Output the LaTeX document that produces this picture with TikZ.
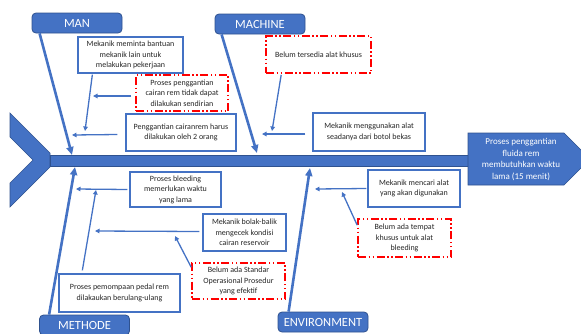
\documentclass[tikz,border=0pt]{standalone}
\usepackage{fontspec}
\setmainfont{Carlito}
\usetikzlibrary{arrows.meta}
\definecolor{fishblue}{HTML}{4472C4}
\definecolor{fishedge}{HTML}{2F528F}
\definecolor{rootred}{HTML}{FF0000}

\begin{document}
\begin{tikzpicture}[x=1pt, y=-1pt,
    header/.style={draw=fishedge, fill=fishblue, rounded corners=4pt, text=white,
      font=\fontsize{12.5}{14}\selectfont, minimum width=90pt, minimum height=20pt,
      inner sep=0pt, line width=0.8pt},
    causebox/.style={draw=fishblue, line width=1.3pt, fill=white, align=center,
      text=black!85, font=\fontsize{8}{10.5}\selectfont, inner sep=0pt},
    rootbox/.style={causebox, draw=rootred, line width=1.6pt,
      dash pattern=on 8pt off 2.5pt on 1.5pt off 2.5pt on 1.5pt off 2.5pt},
    bone/.style={draw=fishblue, line width=2.6pt, -{Triangle[length=8pt, width=7pt]}},
    twig/.style={draw=fishblue, line width=1.3pt, -{Triangle[length=4.5pt, width=4.5pt]}}
  ]
  \useasboundingbox (0,0) rectangle (581,333);

  % Fish tail, spine and head
  \filldraw[fill=fishblue, draw=fishedge, line width=0.6pt]
    (10,113) -- (50,153) -- (50,167) -- (10,207) -- (10,183) -- (33,160) -- (10,137) -- cycle;
  \filldraw[fill=fishblue, draw=fishedge, line width=0.6pt] (50,155) rectangle (470,166);
  \filldraw[fill=fishblue, draw=fishedge, line width=0.6pt]
    (468,133) -- (564,133) -- (590,159) -- (564,185) -- (468,185) -- cycle;
  \node[text=white, align=center, font=\fontsize{9}{11.5}\selectfont] (effect) at (521,159.5)
    {Proses penggantian\\fluida rem\\membutuhkan waktu\\lama (15 menit)};

  % Category headers
  \node[header] (man) at (77,23) {MAN};
  \node[header] (machine) at (260,24) {MACHINE};
  \node[header] (methode) at (84.5,325) {METHODE};
  \node[header] (environment) at (323,322) {ENVIRONMENT};

  % Points where the bones meet the spine
  \coordinate (manT) at (72,155);
  \coordinate (machineT) at (257,153);
  \coordinate (methodeT) at (75,167);
  \coordinate (environmentT) at (310,168);

  \draw[bone] ([shift={(8,0)}]man.south west) -- (manT);
  \draw[bone] ([shift={(7,0)}]machine.south west) -- (machineT);
  \draw[bone] ([shift={(10,0)}]methode.north west) -- (methodeT);
  \draw[bone] ([shift={(11,0)}]environment.north west) -- (environmentT);

  % Causes
  \node[causebox, minimum width=105pt, minimum height=36pt] (c1) at (130.5,55)
    {Mekanik meminta bantuan\\mekanik lain untuk\\melakukan pekerjaan};
  \node[rootbox, minimum width=92pt, minimum height=36pt] (c2) at (182,93)
    {Proses penggantian\\cairan rem tidak dapat\\dilakukan sendirian};
  \node[causebox, minimum width=110pt, minimum height=37pt] (c3) at (181,132.5)
    {Penggantian cairanrem harus\\dilakukan oleh 2 orang};
  \node[rootbox, minimum width=105pt, minimum height=37pt] (c4) at (318.5,54.5)
    {Belum tersedia alat khusus};
  \node[causebox, minimum width=112pt, minimum height=38pt] (c5) at (369,132)
    {Mekanik menggunakan alat\\seadanya dari botol bekas};
  \node[causebox, minimum width=91pt, minimum height=35pt] (c6) at (175.5,189.5)
    {Proses bleeding\\memerlukan waktu\\yang lama};
  \node[causebox, minimum width=83pt, minimum height=37pt] (c7) at (244.5,232.5)
    {Mekanik bolak-balik\\mengecek kondisi\\cairan reservoir};
  \node[causebox, minimum width=121pt, minimum height=38pt] (c8) at (119.5,293)
    {Proses pemompaan pedal rem\\dilakaukan berulang-ulang};
  \node[rootbox, minimum width=93pt, minimum height=36pt] (c9) at (238.5,281)
    {Belum ada Standar\\Operasional Prosedur\\yang efektif};
  \node[causebox, minimum width=92pt, minimum height=37pt] (c10) at (414,188.5)
    {Mekanik mencari alat\\yang akan digunakan};
  \node[rootbox, minimum width=93pt, minimum height=38pt] (c11) at (404.5,238)
    {Belum ada tempat\\khusus untuk alat\\bleeding};

  % Tips of the small arrows
  \coordinate (t1) at (85,131);
  \coordinate (t2) at (93,96);
  \coordinate (t3) at (72,135);
  \coordinate (t4) at (272,131);
  \coordinate (t5) at (262,134);
  \coordinate (t6) at (76,189);
  \coordinate (t7) at (95,231);
  \coordinate (t8) at (96,190);
  \coordinate (t9) at (175,236);
  \coordinate (t10) at (315,189);
  \coordinate (t11) at (342,192);

  \draw[twig] ([shift={(15,1)}]c1.south west) -- (t1);
  \draw[twig] ([shift={(-4,3)}]c2.west) -- (t2);
  \draw[twig] ([shift={(-8,2)}]c3.west) -- (t3);
  \draw[twig] ([shift={(16,1)}]c4.south west) -- (t4);
  \draw[twig] ([shift={(-7,2)}]c5.west) -- (t5);
  \draw[twig] ([shift={(-2,0)}]c6.west) -- (t6);
  \draw[twig] ([shift={(-3,-1)}]c7.west) -- (t7);
  \draw[twig] ([shift={(24,-3)}]c8.north west) -- (t8);
  \draw[twig] ([shift={(0,5)}]c9.north west) -- (t9);
  \draw[twig] ([shift={(-1,0)}]c10.west) -- (t10);
  \draw[twig] ([shift={(0,7)}]c11.north west) -- (t11);
\end{tikzpicture}
\end{document}
